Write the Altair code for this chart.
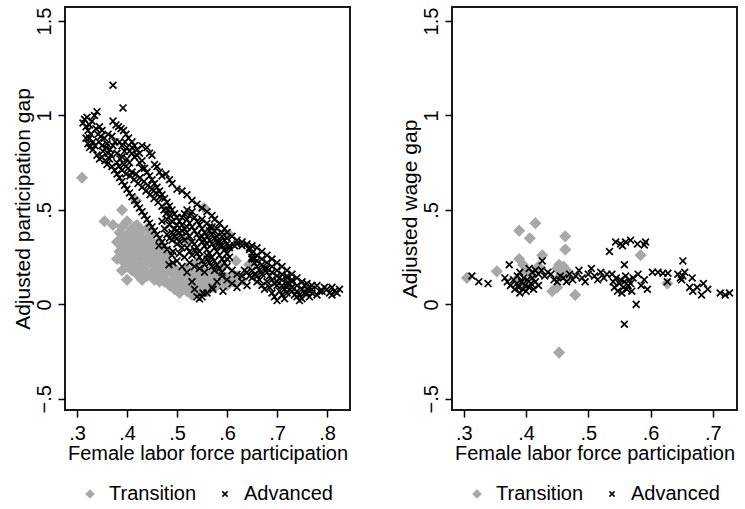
import altair as alt
import pandas as pd

groups = ["Transition", "Advanced"]

left_transition = [
    (0.31, 0.67), (0.355, 0.44), (0.372, 0.42), (0.39, 0.50), (0.418, 0.55), (0.554, 0.51),
    (0.604, 0.37), (0.618, 0.23), (0.644, 0.21),
    (0.385, 0.38), (0.39, 0.35), (0.395, 0.32), (0.40, 0.37), (0.405, 0.34), (0.41, 0.31),
    (0.415, 0.36), (0.42, 0.33), (0.425, 0.30), (0.43, 0.35), (0.385, 0.28), (0.39, 0.25),
    (0.395, 0.22), (0.40, 0.27), (0.405, 0.24), (0.41, 0.21), (0.415, 0.26), (0.42, 0.23),
    (0.425, 0.20), (0.43, 0.25), (0.435, 0.28), (0.44, 0.31), (0.445, 0.26), (0.45, 0.23),
    (0.455, 0.20), (0.46, 0.25), (0.465, 0.22), (0.47, 0.19), (0.40, 0.13), (0.39, 0.18),
    (0.435, 0.18), (0.44, 0.15), (0.45, 0.17), (0.455, 0.13), (0.46, 0.16), (0.47, 0.14),
    (0.475, 0.12), (0.48, 0.17), (0.485, 0.10), (0.49, 0.13), (0.495, 0.08), (0.50, 0.11),
    (0.505, 0.06), (0.51, 0.09), (0.515, 0.12), (0.52, 0.07), (0.525, 0.10), (0.53, 0.05),
    (0.535, 0.08), (0.54, 0.11), (0.545, 0.06), (0.55, 0.09), (0.555, 0.12), (0.56, 0.07),
    (0.565, 0.10), (0.57, 0.13), (0.575, 0.09), (0.58, 0.12), (0.585, 0.15), (0.59, 0.11),
    (0.60, 0.14), (0.61, 0.12), (0.62, 0.15), (0.63, 0.13), (0.48, 0.22), (0.49, 0.20),
    (0.50, 0.18), (0.51, 0.16), (0.52, 0.19), (0.53, 0.17), (0.54, 0.15), (0.55, 0.18),
    (0.56, 0.16), (0.57, 0.19), (0.445, 0.36), (0.45, 0.33), (0.455, 0.30), (0.46, 0.32),
    (0.47, 0.29), (0.475, 0.26), (0.48, 0.28), (0.39, 0.41), (0.40, 0.44), (0.41, 0.40),
    (0.42, 0.42), (0.43, 0.39), (0.44, 0.40), (0.45, 0.38), (0.38, 0.33), (0.38, 0.24),
    (0.44, 0.21), (0.43, 0.13), (0.42, 0.16), (0.60, 0.29), (0.52, 0.34), (0.54, 0.22),
    (0.59, 0.20),
    (0.39, 0.30), (0.40, 0.30), (0.41, 0.28), (0.42, 0.28), (0.43, 0.30), (0.40, 0.20),
    (0.41, 0.18), (0.42, 0.18), (0.43, 0.20), (0.44, 0.24), (0.45, 0.28), (0.46, 0.28),
    (0.47, 0.24), (0.48, 0.20), (0.49, 0.17), (0.50, 0.14), (0.51, 0.13), (0.52, 0.14),
    (0.53, 0.12), (0.54, 0.08), (0.55, 0.14), (0.56, 0.12), (0.57, 0.15), (0.58, 0.17),
    (0.59, 0.14), (0.60, 0.10), (0.61, 0.15), (0.62, 0.12), (0.465, 0.12), (0.475, 0.16),
    (0.44, 0.34), (0.435, 0.32), (0.425, 0.38), (0.415, 0.41),
]

left_advanced = [
    # upper group
    (0.312, 0.96), (0.315, 0.98), (0.318, 0.94), (0.32, 0.99), (0.322, 0.92), (0.325, 0.95),
    (0.33, 0.97), (0.335, 1.00), (0.34, 1.02), (0.338, 0.93), (0.342, 0.90), (0.348, 0.89),
    (0.355, 0.88), (0.362, 0.90), (0.37, 0.89), (0.372, 0.97), (0.378, 0.95), (0.383, 0.94),
    (0.388, 0.93), (0.393, 0.92), (0.398, 0.90), (0.403, 0.88), (0.41, 0.86), (0.372, 1.16),
    (0.392, 1.04),
    # lower diagonal
    (0.318, 0.88), (0.322, 0.85), (0.325, 0.83), (0.332, 0.82), (0.34, 0.79), (0.345, 0.77),
    (0.35, 0.78), (0.356, 0.76), (0.36, 0.74), (0.365, 0.77), (0.37, 0.73), (0.375, 0.71),
    (0.38, 0.69), (0.385, 0.67), (0.39, 0.65), (0.395, 0.63), (0.40, 0.61), (0.405, 0.59),
    (0.41, 0.57), (0.415, 0.55), (0.42, 0.53), (0.425, 0.51), (0.43, 0.49), (0.435, 0.47),
    (0.44, 0.45), (0.445, 0.43), (0.45, 0.41), (0.455, 0.39), (0.46, 0.37), (0.465, 0.35),
    (0.47, 0.33), (0.475, 0.31), (0.48, 0.29), (0.49, 0.26), (0.50, 0.23), (0.51, 0.20),
    (0.52, 0.17), (0.53, 0.12), (0.535, 0.08), (0.54, 0.04), (0.545, 0.03),
    # middle
    (0.38, 0.80), (0.39, 0.78), (0.395, 0.81), (0.40, 0.77), (0.405, 0.75), (0.41, 0.80),
    (0.415, 0.78), (0.42, 0.82), (0.425, 0.80), (0.43, 0.76), (0.435, 0.72), (0.44, 0.70),
    (0.445, 0.68), (0.45, 0.66), (0.455, 0.64), (0.46, 0.62), (0.465, 0.60), (0.47, 0.58),
    (0.475, 0.56), (0.48, 0.54), (0.485, 0.52), (0.49, 0.50), (0.495, 0.48), (0.50, 0.46),
    (0.505, 0.44), (0.51, 0.42), (0.515, 0.40), (0.52, 0.38), (0.525, 0.36),
    # band fill
    (0.328, 0.90), (0.332, 0.86), (0.336, 0.84), (0.344, 0.86), (0.35, 0.84), (0.352, 0.81),
    (0.358, 0.83), (0.362, 0.80), (0.366, 0.82), (0.368, 0.79), (0.372, 0.84), (0.376, 0.86),
    (0.38, 0.75), (0.384, 0.73), (0.386, 0.77), (0.39, 0.71), (0.394, 0.74), (0.398, 0.69),
    (0.402, 0.72), (0.406, 0.68), (0.41, 0.70), (0.414, 0.66), (0.418, 0.69), (0.422, 0.64),
    (0.426, 0.67), (0.43, 0.62), (0.434, 0.65), (0.438, 0.60), (0.442, 0.63), (0.446, 0.58),
    (0.45, 0.61), (0.454, 0.56), (0.458, 0.59), (0.462, 0.54), (0.466, 0.57), (0.47, 0.52),
    (0.474, 0.50), (0.478, 0.48), (0.482, 0.50), (0.486, 0.47), (0.385, 0.86), (0.39, 0.84),
    (0.396, 0.86), (0.40, 0.83), (0.405, 0.81), (0.41, 0.83), (0.415, 0.84), (0.42, 0.79),
    (0.425, 0.75), (0.43, 0.72), (0.35, 0.92), (0.345, 0.94), (0.325, 0.88), (0.36, 0.85),
    # upper right
    (0.43, 0.84), (0.44, 0.83), (0.445, 0.80), (0.45, 0.79), (0.455, 0.74), (0.46, 0.73),
    (0.465, 0.70), (0.47, 0.68), (0.478, 0.69), (0.485, 0.66), (0.49, 0.64), (0.50, 0.61),
    (0.51, 0.60), (0.52, 0.58), (0.53, 0.55), (0.54, 0.53), (0.55, 0.51), (0.56, 0.49),
    (0.57, 0.47), (0.575, 0.45), (0.585, 0.43), (0.595, 0.40), (0.60, 0.38), (0.61, 0.36),
    (0.62, 0.34), (0.63, 0.33), (0.64, 0.32), (0.65, 0.31), (0.66, 0.30), (0.67, 0.28),
    (0.68, 0.26), (0.69, 0.24), (0.70, 0.22), (0.71, 0.20), (0.72, 0.18), (0.73, 0.16),
    (0.74, 0.14), (0.75, 0.12), (0.76, 0.11), (0.77, 0.10),
    # dense mass
    (0.48, 0.45), (0.485, 0.42), (0.49, 0.44), (0.495, 0.40), (0.50, 0.42), (0.505, 0.38),
    (0.51, 0.36), (0.515, 0.34), (0.52, 0.45), (0.525, 0.43), (0.53, 0.41), (0.535, 0.39),
    (0.54, 0.37), (0.545, 0.35), (0.55, 0.33), (0.555, 0.31), (0.56, 0.29), (0.565, 0.27),
    (0.57, 0.25), (0.575, 0.23), (0.52, 0.30), (0.525, 0.28), (0.53, 0.26), (0.535, 0.32),
    (0.54, 0.30), (0.545, 0.28), (0.55, 0.40), (0.555, 0.38), (0.56, 0.36), (0.565, 0.34),
    (0.57, 0.32), (0.575, 0.30), (0.58, 0.36), (0.585, 0.33), (0.59, 0.31), (0.595, 0.29),
    (0.60, 0.27), (0.605, 0.25), (0.605, 0.31), (0.58, 0.28), (0.585, 0.26), (0.59, 0.24),
    (0.55, 0.45), (0.56, 0.43), (0.57, 0.41), (0.58, 0.40), (0.49, 0.34), (0.50, 0.32),
    (0.51, 0.30), (0.505, 0.27), (0.515, 0.25), (0.525, 0.22), (0.535, 0.20), (0.545, 0.19),
    (0.555, 0.17), (0.464, 0.31), (0.492, 0.28), (0.492, 0.22), (0.484, 0.21),
    (0.47, 0.44), (0.475, 0.40), (0.48, 0.37), (0.485, 0.35), (0.49, 0.38), (0.495, 0.36),
    (0.50, 0.35), (0.505, 0.33), (0.51, 0.46), (0.515, 0.48), (0.52, 0.50), (0.525, 0.47),
    (0.53, 0.49), (0.535, 0.46), (0.54, 0.44), (0.545, 0.42), (0.55, 0.36), (0.555, 0.34),
    (0.56, 0.32), (0.565, 0.39), (0.57, 0.37), (0.575, 0.35), (0.58, 0.33), (0.585, 0.31),
    (0.59, 0.36), (0.595, 0.34), (0.60, 0.32), (0.605, 0.30), (0.615, 0.31), (0.645, 0.29),
    (0.65, 0.27), (0.655, 0.22), (0.66, 0.20), (0.665, 0.18), (0.67, 0.16), (0.675, 0.19),
    (0.68, 0.17), (0.685, 0.15), (0.69, 0.13), (0.695, 0.11), (0.70, 0.12), (0.705, 0.14),
    (0.53, 0.33), (0.535, 0.29), (0.54, 0.27), (0.545, 0.25), (0.55, 0.23), (0.555, 0.21),
    (0.56, 0.24), (0.565, 0.22), (0.57, 0.20), (0.575, 0.18), (0.58, 0.21), (0.585, 0.19),
    (0.59, 0.17), (0.595, 0.22), (0.60, 0.24), (0.635, 0.18), (0.64, 0.17), (0.645, 0.15),
    (0.65, 0.18), (0.655, 0.16), (0.66, 0.15), (0.665, 0.13), (0.56, 0.26), (0.565, 0.41),
    (0.575, 0.39), (0.59, 0.38), (0.60, 0.35), (0.52, 0.41), (0.51, 0.39), (0.50, 0.39),
    # right tail
    (0.60, 0.20), (0.61, 0.18), (0.62, 0.16), (0.63, 0.15), (0.655, 0.24), (0.65, 0.24),
    (0.66, 0.23), (0.67, 0.21), (0.68, 0.19), (0.69, 0.17), (0.70, 0.15), (0.71, 0.13),
    (0.72, 0.11), (0.73, 0.09), (0.74, 0.07), (0.745, 0.05), (0.75, 0.03), (0.755, 0.06),
    (0.76, 0.08), (0.70, 0.10), (0.705, 0.07), (0.71, 0.05), (0.715, 0.03), (0.72, 0.06),
    (0.725, 0.08), (0.68, 0.12), (0.685, 0.09), (0.69, 0.06), (0.695, 0.04), (0.70, 0.02),
    (0.65, 0.14), (0.66, 0.12), (0.67, 0.10), (0.675, 0.08), (0.64, 0.10), (0.63, 0.12),
    (0.62, 0.09), (0.61, 0.11), (0.60, 0.13), (0.59, 0.15), (0.58, 0.12), (0.57, 0.09),
    (0.56, 0.06), (0.55, 0.04), (0.80, 0.08), (0.805, 0.06), (0.81, 0.09), (0.815, 0.07),
    (0.82, 0.06), (0.825, 0.08), (0.79, 0.07), (0.78, 0.10), (0.77, 0.06), (0.765, 0.04),
    (0.74, 0.10), (0.73, 0.12), (0.72, 0.14), (0.552, 0.06), (0.572, 0.08), (0.592, 0.07),
    (0.62, 0.32), (0.63, 0.31), (0.645, 0.30), (0.65, 0.25), (0.66, 0.26), (0.67, 0.24),
    (0.68, 0.22), (0.69, 0.20), (0.70, 0.18), (0.71, 0.16), (0.72, 0.15), (0.73, 0.13),
    (0.71, 0.10), (0.715, 0.08), (0.72, 0.09), (0.725, 0.11), (0.73, 0.07), (0.735, 0.05),
    (0.74, 0.04), (0.75, 0.08), (0.76, 0.06), (0.77, 0.08), (0.78, 0.05), (0.785, 0.07),
    (0.795, 0.09), (0.745, 0.02), (0.755, 0.10), (0.765, 0.09), (0.81, 0.05),
]

right_transition = [
    (0.305, 0.14), (0.353, 0.175), (0.389, 0.39), (0.415, 0.43), (0.406, 0.35), (0.463, 0.36),
    (0.463, 0.29), (0.389, 0.24), (0.395, 0.21), (0.40, 0.18), (0.426, 0.26), (0.42, 0.20),
    (0.41, 0.15), (0.453, 0.21), (0.458, 0.17), (0.45, 0.19), (0.46, 0.20), (0.465, 0.18),
    (0.455, 0.15), (0.442, 0.07), (0.45, 0.09), (0.479, 0.05), (0.453, -0.255), (0.584, 0.26),
    (0.627, 0.11), (0.40, 0.11), (0.385, 0.13), (0.47, 0.14),
]

right_advanced = [
    (0.313, 0.15), (0.324, 0.12), (0.339, 0.11), (0.373, 0.21), (0.366, 0.14), (0.37, 0.12),
    (0.375, 0.10), (0.38, 0.13), (0.382, 0.08), (0.385, 0.11), (0.388, 0.09), (0.39, 0.06),
    (0.393, 0.12), (0.395, 0.08), (0.398, 0.10), (0.40, 0.07), (0.402, 0.13), (0.405, 0.09),
    (0.408, 0.11), (0.41, 0.14), (0.412, 0.08), (0.415, 0.12), (0.42, 0.10), (0.386, 0.15),
    (0.39, 0.17), (0.396, 0.14), (0.405, 0.19), (0.41, 0.17), (0.415, 0.18), (0.42, 0.16),
    (0.426, 0.23), (0.425, 0.18), (0.43, 0.15), (0.435, 0.17), (0.44, 0.16), (0.445, 0.13),
    (0.45, 0.12), (0.455, 0.15), (0.46, 0.14), (0.465, 0.12), (0.47, 0.16), (0.475, 0.13),
    (0.48, 0.15), (0.485, 0.18), (0.49, 0.14), (0.495, 0.12), (0.50, 0.16), (0.505, 0.19),
    (0.51, 0.15), (0.515, 0.13), (0.52, 0.17), (0.525, 0.14), (0.53, 0.16), (0.534, 0.28),
    (0.544, 0.33), (0.552, 0.32), (0.56, 0.33), (0.568, 0.34), (0.579, 0.32), (0.59, 0.315),
    (0.592, 0.33), (0.555, 0.31), (0.538, 0.16), (0.54, 0.12), (0.542, 0.09), (0.545, 0.14),
    (0.547, 0.07), (0.55, 0.11), (0.552, 0.13), (0.554, 0.06), (0.556, 0.09), (0.558, 0.12),
    (0.56, 0.15), (0.562, 0.08), (0.564, 0.10), (0.566, 0.13), (0.568, 0.11), (0.57, 0.07),
    (0.572, 0.14), (0.558, 0.21), (0.58, 0.16), (0.585, 0.10), (0.59, 0.13), (0.595, 0.08),
    (0.577, 0.0), (0.558, -0.105), (0.603, 0.17), (0.612, 0.17), (0.62, 0.165), (0.628, 0.165),
    (0.644, 0.16), (0.648, 0.14), (0.65, 0.13), (0.652, 0.15), (0.655, 0.17), (0.652, 0.23),
    (0.627, 0.12), (0.667, 0.14), (0.663, 0.09), (0.668, 0.07), (0.675, 0.09), (0.682, 0.05),
    (0.685, 0.11), (0.692, 0.08), (0.712, 0.06), (0.72, 0.05), (0.727, 0.06),
]

y_ticks = [-0.5, 0, 0.5, 1, 1.5]
left_x_ticks = [0.3, 0.4, 0.5, 0.6, 0.7, 0.8]
right_x_ticks = [0.3, 0.4, 0.5, 0.6, 0.7]

DIAMOND = "M0,-1L1,0L0,1L-1,0Z"
XMARK = "M-0.7,-0.7L0.7,0.7M-0.7,0.7L0.7,-0.7"
GRAY = "#a8a8a8"
FONT = "Liberation Sans"


def make_frame(trans, adv):
    rows = [{"flp": x, "gap": y, "group": "Transition"} for x, y in trans]
    rows += [{"flp": x, "gap": y, "group": "Advanced"} for x, y in adv]
    return pd.DataFrame(rows)


def panel(df, x_dom, x_ticks, y_title):
    leg = alt.Legend(
        title=None, orient="none", direction="horizontal", legendX=15, legendY=477,
        labelFontSize=20, labelFont=FONT, labelColor="black", symbolSize=55,
        symbolStrokeWidth=1.5, columnPadding=18, labelOffset=9, padding=0,
    )
    return alt.Chart(df).mark_point(size=95, strokeWidth=1.7, opacity=1).encode(
        x=alt.X("flp:Q", scale=alt.Scale(domain=x_dom, nice=False, zero=False),
                axis=alt.Axis(values=x_ticks, title="Female labor force participation",
                              labelExpr="replace(format(datum.value, '.1f'), '0.', '.')",
                              labelPadding=6, titlePadding=0)),
        y=alt.Y("gap:Q", scale=alt.Scale(domain=[-0.559, 1.574], nice=False, zero=False),
                axis=alt.Axis(values=y_ticks, title=y_title, labelAngle=270,
                              labelAlign="center", labelBaseline="bottom",
                              labelExpr="replace(format(datum.value, '.1~f'), '0.', '.')",
                              labelPadding=4, titlePadding=1, titleFontSize=21)),
        color=alt.Color("group:N", scale=alt.Scale(domain=groups, range=[GRAY, "black"]), legend=leg),
        fill=alt.Fill("group:N", scale=alt.Scale(domain=groups, range=[GRAY, "transparent"]), legend=leg),
        shape=alt.Shape("group:N", scale=alt.Scale(domain=groups, range=[DIAMOND, XMARK]), legend=leg),
    ).properties(width=285, height=403)


left = panel(make_frame(left_transition, left_advanced), [0.276, 0.846], left_x_ticks,
             "Adjusted participation gap")
right = panel(make_frame(right_transition, right_advanced), [0.281, 0.739], right_x_ticks,
              "Adjusted wage gap")

chart = alt.hconcat(left, right, spacing=47).resolve_scale(
    color="independent", fill="independent", shape="independent"
).resolve_legend(
    color="independent", fill="independent", shape="independent"
).properties(
    padding={"left": 11, "top": 6, "right": 4, "bottom": 0}, background="white"
).configure_view(
    stroke="#1a1a1a", strokeWidth=2
).configure_axis(
    domain=False, grid=False, tickColor="black", tickWidth=1.5, tickSize=7,
    labelFont=FONT, labelFontSize=20, labelColor="black", labelFlush=False, labelOverlap=False,
    titleFont=FONT, titleFontSize=20, titleFontWeight="normal", titleColor="black",
)

chart.save("out.html", embed_options={"renderer": "svg", "actions": False})
